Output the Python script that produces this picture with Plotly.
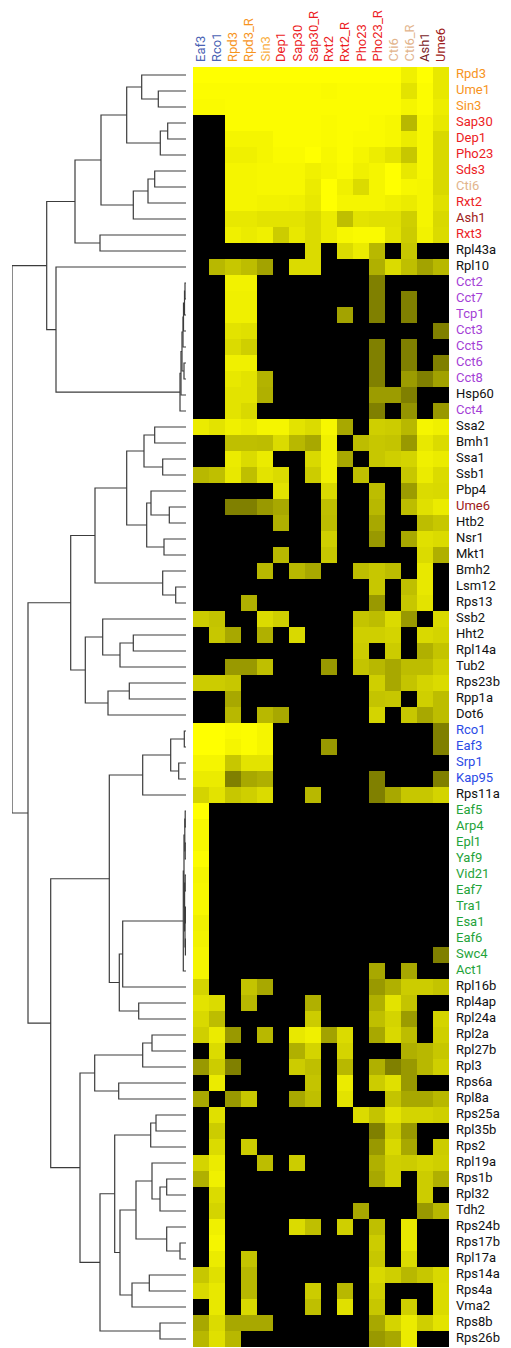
import plotly.graph_objects as go

COLS = ["Eaf3", "Rco1", "Rpd3", "Rpd3_R", "Sin3", "Dep1", "Sap30", "Sap30_R",
        "Rxt2", "Rxt2_R", "Pho23", "Pho23_R", "Cti6", "Cti6_R", "Ash1", "Ume6"]

ROWS = ["Rpd3", "Ume1", "Sin3", "Sap30", "Dep1", "Pho23", "Sds3", "Cti6", "Rxt2", "Ash1",
        "Rxt3", "Rpl43a", "Rpl10", "Cct2", "Cct7", "Tcp1", "Cct3", "Cct5", "Cct6", "Cct8",
        "Hsp60", "Cct4", "Ssa2", "Bmh1", "Ssa1", "Ssb1", "Pbp4", "Ume6", "Htb2", "Nsr1",
        "Mkt1", "Bmh2", "Lsm12", "Rps13", "Ssb2", "Hht2", "Rpl14a", "Tub2", "Rps23b", "Rpp1a",
        "Dot6", "Rco1", "Eaf3", "Srp1", "Kap95", "Rps11a", "Eaf5", "Arp4", "Epl1", "Yaf9",
        "Vid21", "Eaf7", "Tra1", "Esa1", "Eaf6", "Swc4", "Act1", "Rpl16b", "Rpl4ap", "Rpl24a",
        "Rpl2a", "Rpl27b", "Rpl3", "Rps6a", "Rpl8a", "Rps25a", "Rpl35b", "Rps2", "Rpl19a", "Rps1b",
        "Rpl32", "Tdh2", "Rps24b", "Rps17b", "Rpl17a", "Rps14a", "Rps4a", "Vma2", "Rps8b", "Rps26b"]

# enrichment score per row (0 = none, 100 = max), column order as COLS
VALUES = [
    [100, 100, 100, 100, 100, 100, 100, 100, 100, 100, 100, 100, 100, 94, 100, 91],
    [99, 99, 99, 99, 99, 99, 99, 99, 98, 99, 99, 99, 99, 89, 99, 91],
    [98, 98, 99, 99, 99, 99, 99, 99, 99, 99, 99, 99, 99, 96, 99, 93],
    [0, 0, 99, 99, 99, 99, 99, 99, 98, 99, 99, 98, 97, 72, 97, 91],
    [0, 0, 96, 96, 96, 99, 99, 99, 98, 99, 98, 98, 97, 92, 97, 85],
    [0, 0, 94, 94, 96, 98, 98, 100, 97, 99, 96, 93, 89, 78, 97, 85],
    [0, 0, 96, 96, 97, 97, 97, 94, 96, 98, 94, 96, 100, 91, 97, 85],
    [0, 0, 96, 96, 97, 97, 97, 92, 100, 94, 86, 96, 100, 97, 96, 85],
    [0, 0, 96, 96, 95, 95, 94, 91, 100, 96, 96, 96, 94, 92, 96, 88],
    [0, 0, 91, 91, 89, 89, 89, 86, 92, 75, 89, 88, 88, 81, 96, 85],
    [0, 0, 94, 92, 94, 80, 91, 86, 92, 97, 98, 98, 89, 80, 95, 86],
    [0, 0, 0, 0, 0, 0, 0, 86, 0, 86, 92, 72, 0, 78, 0, 0],
    [0, 72, 78, 74, 64, 0, 86, 86, 0, 0, 0, 69, 86, 75, 64, 72],
    [0, 0, 95, 95, 0, 0, 0, 0, 0, 0, 0, 50, 0, 0, 0, 0],
    [0, 0, 94, 94, 0, 0, 0, 0, 0, 0, 0, 50, 0, 50, 0, 0],
    [0, 0, 94, 94, 0, 0, 0, 0, 0, 64, 0, 50, 0, 50, 0, 0],
    [0, 0, 89, 88, 0, 0, 0, 0, 0, 0, 0, 0, 0, 0, 0, 50],
    [0, 0, 86, 81, 0, 0, 0, 0, 0, 0, 0, 50, 0, 50, 0, 0],
    [0, 0, 94, 94, 0, 0, 0, 0, 0, 0, 0, 50, 0, 50, 0, 50],
    [0, 0, 91, 89, 70, 0, 0, 0, 0, 0, 0, 50, 0, 61, 50, 63],
    [0, 0, 89, 89, 69, 0, 0, 0, 0, 0, 0, 61, 61, 50, 0, 0],
    [0, 0, 89, 85, 0, 0, 0, 0, 0, 0, 0, 50, 0, 58, 0, 60],
    [92, 89, 94, 92, 96, 96, 89, 86, 97, 66, 0, 81, 80, 72, 96, 94],
    [0, 0, 75, 75, 74, 86, 72, 66, 94, 0, 74, 78, 77, 60, 91, 86],
    [0, 0, 92, 86, 92, 0, 0, 85, 94, 66, 0, 78, 81, 83, 94, 92],
    [72, 75, 91, 75, 89, 86, 0, 80, 94, 0, 75, 0, 0, 78, 92, 86],
    [0, 0, 0, 0, 0, 89, 0, 0, 85, 0, 0, 74, 0, 61, 86, 85],
    [0, 0, 50, 50, 60, 66, 0, 0, 75, 0, 0, 72, 0, 74, 88, 92],
    [0, 0, 0, 0, 0, 69, 0, 0, 74, 0, 0, 66, 0, 0, 74, 78],
    [0, 0, 0, 0, 0, 0, 0, 0, 81, 0, 0, 60, 0, 66, 88, 86],
    [0, 0, 0, 0, 0, 72, 0, 0, 78, 0, 0, 0, 0, 0, 86, 69],
    [0, 0, 0, 0, 72, 0, 72, 66, 0, 0, 74, 78, 74, 0, 91, 0],
    [0, 0, 0, 0, 0, 0, 0, 0, 0, 0, 0, 78, 0, 75, 91, 0],
    [0, 0, 0, 69, 0, 0, 0, 0, 0, 0, 0, 60, 0, 78, 89, 0],
    [80, 77, 0, 0, 86, 81, 0, 0, 0, 0, 77, 74, 86, 60, 0, 85],
    [0, 78, 66, 0, 69, 0, 85, 0, 0, 0, 81, 81, 83, 0, 85, 83],
    [0, 0, 0, 0, 0, 0, 0, 0, 0, 0, 80, 0, 80, 0, 69, 77],
    [0, 0, 60, 60, 75, 0, 0, 0, 60, 0, 77, 72, 66, 74, 74, 81],
    [80, 80, 78, 0, 0, 0, 0, 0, 0, 0, 0, 81, 66, 77, 83, 86],
    [0, 0, 66, 0, 0, 0, 0, 0, 0, 0, 0, 77, 78, 0, 81, 74],
    [0, 0, 72, 0, 72, 66, 0, 0, 0, 0, 0, 83, 0, 78, 66, 74],
    [100, 100, 98, 99, 96, 0, 0, 0, 0, 0, 0, 0, 0, 0, 0, 50],
    [100, 100, 96, 99, 96, 0, 0, 0, 60, 0, 0, 0, 0, 0, 0, 50],
    [96, 96, 78, 89, 89, 0, 0, 0, 0, 0, 0, 0, 0, 0, 0, 0],
    [92, 92, 50, 66, 69, 0, 0, 0, 0, 0, 0, 50, 0, 0, 0, 50],
    [83, 89, 78, 81, 86, 0, 0, 72, 0, 0, 0, 50, 66, 78, 78, 83],
    [100, 0, 0, 0, 0, 0, 0, 0, 0, 0, 0, 0, 0, 0, 0, 0],
    [97, 0, 0, 0, 0, 0, 0, 0, 0, 0, 0, 0, 0, 0, 0, 0],
    [97, 0, 0, 0, 0, 0, 0, 0, 0, 0, 0, 0, 0, 0, 0, 0],
    [99, 0, 0, 0, 0, 0, 0, 0, 0, 0, 0, 0, 0, 0, 0, 0],
    [96, 0, 0, 0, 0, 0, 0, 0, 0, 0, 0, 0, 0, 0, 0, 0],
    [97, 0, 0, 0, 0, 0, 0, 0, 0, 0, 0, 0, 0, 0, 0, 0],
    [97, 0, 0, 0, 0, 0, 0, 0, 0, 0, 0, 0, 0, 0, 0, 0],
    [94, 0, 0, 0, 0, 0, 0, 0, 0, 0, 0, 0, 0, 0, 0, 0],
    [95, 0, 0, 0, 0, 0, 0, 0, 0, 0, 0, 0, 0, 0, 0, 0],
    [96, 0, 0, 0, 0, 0, 0, 0, 0, 0, 0, 0, 0, 0, 0, 50],
    [96, 0, 0, 0, 0, 0, 0, 0, 0, 0, 0, 66, 0, 66, 0, 0],
    [83, 0, 0, 77, 66, 0, 0, 0, 0, 0, 0, 60, 69, 80, 80, 77],
    [89, 86, 0, 72, 0, 0, 0, 69, 0, 0, 0, 69, 89, 77, 0, 0],
    [85, 74, 0, 0, 0, 0, 0, 80, 0, 0, 0, 75, 83, 61, 0, 83],
    [81, 92, 60, 0, 72, 0, 91, 94, 64, 86, 0, 66, 85, 74, 0, 81],
    [0, 86, 0, 0, 0, 0, 69, 83, 0, 83, 0, 0, 0, 69, 72, 78],
    [60, 80, 50, 0, 0, 0, 80, 75, 0, 72, 0, 69, 50, 60, 72, 81],
    [0, 92, 0, 0, 0, 0, 0, 77, 0, 92, 0, 80, 88, 60, 0, 0],
    [66, 0, 60, 78, 0, 0, 66, 75, 0, 89, 0, 0, 77, 66, 66, 72],
    [0, 88, 0, 0, 0, 0, 0, 0, 0, 0, 86, 77, 89, 83, 83, 81],
    [0, 80, 0, 0, 0, 0, 0, 0, 0, 0, 0, 50, 80, 60, 0, 0],
    [0, 86, 0, 80, 0, 0, 0, 0, 0, 0, 0, 60, 85, 66, 0, 80],
    [83, 92, 0, 0, 74, 0, 80, 0, 0, 0, 0, 69, 81, 80, 83, 81],
    [69, 94, 0, 0, 0, 0, 0, 0, 0, 0, 0, 66, 81, 0, 80, 69],
    [0, 86, 0, 0, 0, 0, 0, 0, 0, 0, 0, 0, 0, 0, 80, 0],
    [0, 83, 0, 0, 0, 0, 0, 0, 0, 0, 66, 0, 0, 0, 60, 72],
    [0, 94, 0, 0, 0, 0, 86, 75, 0, 81, 0, 75, 0, 91, 0, 0],
    [0, 96, 0, 0, 0, 0, 0, 0, 0, 0, 0, 80, 0, 91, 0, 0],
    [0, 92, 0, 77, 0, 0, 0, 0, 0, 0, 0, 78, 0, 86, 0, 0],
    [78, 88, 0, 72, 0, 0, 0, 0, 0, 0, 0, 85, 81, 72, 78, 85],
    [85, 91, 0, 72, 0, 0, 0, 80, 0, 72, 0, 81, 0, 0, 0, 86],
    [0, 91, 0, 85, 0, 0, 0, 75, 0, 88, 0, 78, 0, 81, 0, 86],
    [66, 86, 66, 66, 66, 0, 0, 0, 0, 0, 0, 66, 83, 92, 81, 89],
    [72, 88, 72, 0, 0, 0, 0, 0, 0, 0, 0, 60, 66, 92, 0, 0],
]

# hierarchical clustering merges: (node, left, right, height)
MERGES = [
    ("a1", "Ume1", "Sin3", 27.7), ("a2", "Rpd3", "a1", 44.3),
    ("a3", "Sap30", "Dep1", 18.3), ("a4", "a3", "Pho23", 25.7), ("a5", "a2", "a4", 59.3),
    ("a6", "Sds3", "Cti6", 31.3), ("a7", "a6", "Rxt2", 38.0), ("a8", "a7", "Ash1", 52.7),
    ("a9", "a5", "a8", 85.0), ("a10", "Rxt3", "Rpl43a", 86.0), ("a11", "a9", "a10", 111.0),
    ("c1", "Cct2", "Cct7", 1.0), ("c2", "c1", "Tcp1", 1.5), ("c3", "c2", "Cct3", 2.5),
    ("c4", "c3", "Cct5", 3.0), ("c5", "Cct6", "Cct8", 2.0), ("c6", "c4", "c5", 4.0),
    ("c7", "c6", "Hsp60", 5.0), ("c8", "c7", "Cct4", 6.0),
    ("a12", "Rpl10", "c8", 130.0), ("a13", "a11", "a12", 139.3),
    ("b1", "Ssa2", "Bmh1", 31.3), ("b2", "Ssa1", "Ssb1", 23.3), ("b3", "b1", "b2", 42.0),
    ("b4", "Ume6", "Htb2", 16.7), ("b5", "Pbp4", "b4", 35.0), ("b6", "Nsr1", "Mkt1", 22.0),
    ("b7", "b5", "b6", 39.3), ("b8", "b3", "b7", 59.3),
    ("b9", "Lsm12", "Rps13", 10.3), ("b10", "Bmh2", "b9", 23.3), ("b11", "b8", "b10", 91.0),
    ("b12", "Hht2", "Rpl14a", 52.7), ("b13", "b12", "Tub2", 66.0), ("b14", "Ssb2", "b13", 83.3),
    ("b15", "Rps23b", "Rpp1a", 56.7), ("b16", "b15", "Dot6", 78.0), ("b17", "b14", "b16", 100.7),
    ("b18", "b11", "b17", 115.3),
    ("d1", "Rco1", "Eaf3", 1.7), ("d2", "Srp1", "Kap95", 7.3), ("d3", "d1", "d2", 15.3),
    ("d4", "d3", "Rps11a", 43.3),
    ("e1", "Eaf5", "Arp4", 0.8), ("e2", "Epl1", "Yaf9", 0.8), ("e3", "e1", "e2", 1.2),
    ("e4", "Vid21", "Eaf7", 0.8), ("e5", "Tra1", "Esa1", 0.6), ("e6", "Eaf6", "Swc4", 0.6),
    ("e7", "e5", "e6", 1.0), ("e8", "e4", "e7", 1.4), ("e9", "e3", "e8", 2.0),
    ("e10", "e9", "Act1", 2.7), ("e11", "e10", "Rpl16b", 63.3),
    ("e12", "Rpl4ap", "Rpl24a", 47.3), ("e13", "e11", "e12", 66.7), ("e14", "d4", "e13", 76.7),
    ("f1", "Rpl2a", "Rpl27b", 34.0), ("f2", "f1", "Rpl3", 43.3), ("f3", "Rps6a", "Rpl8a", 67.3),
    ("f4", "f2", "f3", 91.3),
    ("g1", "Rps25a", "Rpl35b", 30.0), ("g2", "g1", "Rps2", 35.3),
    ("g3", "Rps1b", "Rpl32", 19.3), ("g4", "g3", "Tdh2", 26.0), ("g5", "Rpl19a", "g4", 34.0),
    ("g6", "Rps17b", "Rpl17a", 6.0), ("g7", "Rps24b", "g6", 19.3), ("g8", "g5", "g7", 50.0),
    ("g9", "Rps14a", "Rps4a", 36.7), ("g10", "g9", "Vma2", 54.0), ("g11", "g8", "g10", 66.0),
    ("g12", "g2", "g11", 71.3), ("g13", "Rps8b", "Rps26b", 26.0), ("g14", "g12", "g13", 86.0),
    ("f5", "f4", "g14", 106.0), ("f6", "e14", "f5", 135.3), ("f7", "b18", "f6", 158.0),
    ("root", "a13", "f7", 174.0),
]

ORANGE, RED, TAN, DARKRED, PURPLE, BLUE, GREEN = (
    "#f7941d", "#ec1c24", "#e2b48c", "#9e1b20", "#a43fd6", "#2b4be6", "#1fa33a")
COL_COLORS = ["#4a62b4", "#4a62b4", ORANGE, ORANGE, "#f9ad3c", RED, RED, RED,
              RED, RED, RED, RED, TAN, TAN, "#7a1b1f", DARKRED]
ROW_GROUPS = {
    ORANGE: ["Rpd3", "Ume1", "Sin3"],
    RED: ["Sap30", "Dep1", "Pho23", "Sds3", "Rxt2", "Rxt3"],
    TAN: ["Cti6"],
    DARKRED: ["Ash1", "Ume6"],
    PURPLE: ["Cct2", "Cct7", "Tcp1", "Cct3", "Cct5", "Cct6", "Cct8", "Cct4"],
    BLUE: ["Rco1", "Eaf3", "Srp1", "Kap95"],
    GREEN: ["Eaf5", "Arp4", "Epl1", "Yaf9", "Vid21", "Eaf7", "Tra1", "Esa1", "Eaf6", "Swc4", "Act1"],
}

W, H = 511, 1348
row_color = {n: c for c, names in ROW_GROUPS.items() for n in names}

# dendrogram segments from merges
node_y = {n: i for i, n in enumerate(ROWS)}
node_h = {n: 0.0 for n in ROWS}
dx, dy = [], []
for name, a, b, h in MERGES:
    ya, yb = node_y[a], node_y[b]
    dx += [node_h[a], h, h, node_h[b], None]
    dy += [ya, ya, yb, yb, None]
    node_y[name] = (ya + yb) / 2
    node_h[name] = h

fig = go.Figure()
fig.add_trace(go.Heatmap(
    z=VALUES, x=list(range(len(COLS))), y=list(range(len(ROWS))),
    colorscale=[[0, "#000000"], [1, "#ffff00"]], zmin=0, zmax=100,
    showscale=False, hoverinfo="skip"))
fig.add_trace(go.Scatter(x=dx, y=dy, mode="lines", xaxis="x2", yaxis="y",
                         line=dict(color="#3c3c3c", width=1.2), hoverinfo="skip",
                         showlegend=False))

FONT = "Roboto"
ann = []
for i, n in enumerate(ROWS):
    ann.append(dict(x=454 / W, xref="paper", y=i, yref="y", text=n, showarrow=False,
                    xanchor="left", yanchor="middle", yshift=2,
                    font=dict(family=FONT, size=13, color=row_color.get(n, "#111111"))))
for j, c in enumerate(COLS):
    ann.append(dict(x=j, xref="x", y=1 - 64 / H, yref="paper", text=c, showarrow=False,
                    textangle=-90, xanchor="center", yanchor="bottom",
                    font=dict(family=FONT, size=13, color=COL_COLORS[j])))

fig.update_layout(
    width=W, height=H, margin=dict(l=0, r=0, t=0, b=0),
    paper_bgcolor="white", plot_bgcolor="white", showlegend=False,
    xaxis=dict(domain=[193 / W, 449 / W], range=[-0.5, 15.5], visible=False),
    xaxis2=dict(domain=[12 / W, 186 / W], range=[174, 0], visible=False, anchor="y"),
    yaxis=dict(domain=[1 - 1347 / H, 1 - 67 / H], range=[79.5, -0.5], visible=False),
    annotations=ann,
)
fig.write_html("out.html", config={"displayModeBar": False},
               post_script="document.body.style.margin='0';document.body.style.overflow='hidden';")
